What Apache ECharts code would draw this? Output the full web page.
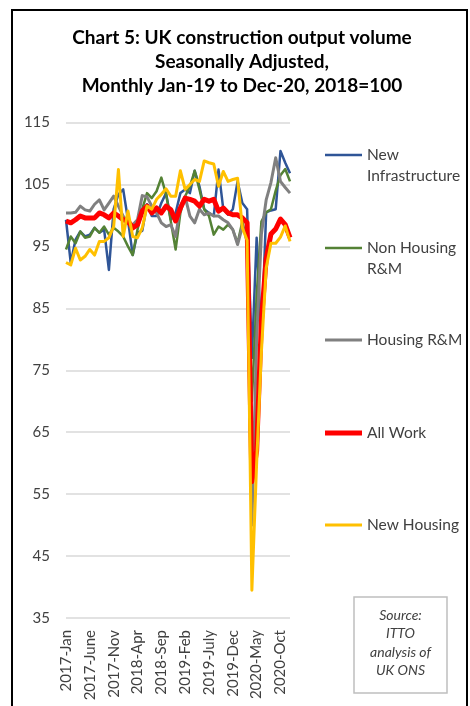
<!DOCTYPE html>
<html>
<head>
<meta charset="utf-8">
<script src="https://cdn.jsdelivr.net/npm/echarts@6/dist/echarts.min.js"></script>
<style>
    html, body { margin: 0; padding: 0; background: #fff; }
    #main { width: 470px; height: 706px; }
</style>
</head>
<body>
<div id="main"></div>
<script>
// months Jan 2017 - Dec 2020, labels shown every 5th month
let months = [
    "2017-Jan", "2017-Feb", "2017-Mar", "2017-Apr", "2017-May", "2017-June", "2017-July", "2017-Aug", "2017-Sep", "2017-Oct", "2017-Nov", "2017-Dec",
    "2018-Jan", "2018-Feb", "2018-Mar", "2018-Apr", "2018-May", "2018-June", "2018-July", "2018-Aug", "2018-Sep", "2018-Oct", "2018-Nov", "2018-Dec",
    "2019-Jan", "2019-Feb", "2019-Mar", "2019-Apr", "2019-May", "2019-June", "2019-July", "2019-Aug", "2019-Sep", "2019-Oct", "2019-Nov", "2019-Dec",
    "2020-Jan", "2020-Feb", "2020-Mar", "2020-Apr", "2020-May", "2020-June", "2020-July", "2020-Aug", "2020-Sep", "2020-Oct", "2020-Nov", "2020-Dec"
];

let seriesNames = ["New Infrastructure", "Non Housing R&M", "Housing R&M", "All Work", "New Housing"];
let legendLabels = ["New\nInfrastructure", "Non Housing\nR&M", "Housing R&M", "All Work", "New Housing"];

let newInfrastructure = [99.3, 92.3, 96.1, 97.4, 96.6, 96.9, 98, 97.2, 97.7, 91.2, 101, 103.4,
    104.2, 99.3, 93.6, 97.2, 97.5, 101.8, 99.9, 99.9, 102, 103.6, 99.3, 100.4,
    103.6, 104.2, 103.6, 107.2, 104.7, 101, 100.4, 99.9, 107.4, 101, 100.1, 101,
    105.5, 102, 101, 77, 96.4, 80, 100.5, 100.8, 101, 110.4, 108.5, 106.8];

let nonHousingRM = [94.5, 96.6, 95.5, 97.4, 96.4, 96.6, 98, 97.2, 98.2, 96.9, 98, 97.4,
    96.6, 95, 93.6, 97.7, 101, 103.6, 102.8, 103.9, 106.1, 103.4, 99, 94.5,
    100.4, 103.1, 104.7, 107.2, 104.2, 101, 99.9, 96.9, 98.2, 97.7, 98.5, 97.7,
    95.5, 99, 95.5, 70, 87, 99, 100.5, 101, 104, 106.5, 107.5, 105.5];

let housingRM = [100.4, 100.4, 100.5, 101.5, 100.9, 100.7, 101.8, 102.5, 100.9, 102, 103.1, 101.5,
    99.9, 98.8, 98.5, 99.3, 103.2, 103, 101.5, 100.4, 98.8, 98.2, 98.5, 96.6,
    101.5, 103, 99.9, 98.8, 101, 100.1, 100.4, 99.9, 99.9, 99.3, 98.8, 97.7,
    95.3, 98.2, 96.4, 50, 80, 97, 102.5, 105.3, 109.3, 105.5, 104.5, 103.6];

let allWork = [99.1, 98.8, 99.3, 99.9, 99.6, 99.6, 99.6, 100.4, 100.1, 99.6, 100.4, 99.9,
    99.3, 99.1, 98, 98.5, 100.7, 101.5, 100.4, 101.2, 100.4, 101.5, 100.9, 99.1,
    101.2, 102.8, 102.6, 102.3, 101.5, 102.6, 102.3, 102.6, 100.7, 101.2, 100.4, 100.1,
    100.1, 99.6, 98.8, 57, 62, 83, 93, 97, 97.8, 99.4, 98.5, 96.4];

let newHousing = [92.4, 92, 94.7, 92.8, 93.4, 94.5, 93.6, 95.8, 95.8, 96.4, 98.2, 107.4,
    96.6, 100.7, 96.6, 96.4, 98, 101.5, 101, 102.6, 103.4, 104.3, 103.1, 103.1,
    107.2, 104.2, 105, 105.8, 105.5, 108.8, 108.5, 108.3, 104.7, 107.1, 105.5, 105.8,
    106, 98, 96, 39.5, 60, 78, 91.5, 95.5, 95.5, 96.5, 98.3, 95.8];

let seriesData = [newInfrastructure, nonHousingRM, housingRM, allWork, newHousing];
let colours = ["#2f5597", "#548235", "#808080", "#ff0000", "#ffc000"];
let widths = [2.5, 2.5, 3, 5, 3];
let legendTops = [155, 248, 340, 433, 525];

let myChart = echarts.init(document.getElementById("main"));

let font = "Lato, 'Liberation Sans', sans-serif";
let lineH = 21;

let series = [];
let legends = [];
for (let i = 0; i < seriesNames.length; i = i+1) {
    series.push({
        name: seriesNames[i],
        type: "line",
        data: seriesData[i],
        showSymbol: false,
        symbol: "none",
        smooth: false,
        color: colours[i],
        lineStyle: { color: colours[i], width: widths[i], join: "round" }
    });
    let twoLines = legendLabels[i].indexOf("\n") >= 0;
    let h = twoLines ? 23.5 : widths[i];
    // the legend box starts at the top of the text block
    let top = twoLines ? legendTops[i] - (lineH - h / 2) - widths[i] / 2 : legendTops[i] - lineH / 2;
    legends.push({
        data: [seriesNames[i]],
        left: 325,
        top: top,
        padding: 0,
        itemWidth: 37,
        itemHeight: h,
        icon: twoLines ? "path://M0,0H37V" + widths[i] + "H0Z M0,23.49H0.01V23.5H0Z" : "rect",
        symbolKeepAspect: false,
        selectedMode: false,
        itemStyle: { borderWidth: 0 },
        formatter: function () { return legendLabels[i]; },
        textStyle: { fontFamily: font, fontSize: 15.5, color: "#404040", lineHeight: lineH }
    });
}

let option = {
    animation: false,
    grid: { left: 66, right: 180, top: 122.5, bottom: 88 },
    xAxis: {
        type: "category",
        data: months,
        boundaryGap: false,
        axisLine: { show: false },
        axisTick: { show: false },
        axisLabel: {
            interval: 4,
            rotate: 90,
            margin: 12,
            fontFamily: font,
            fontSize: 15,
            color: "#404040"
        }
    },
    yAxis: {
        type: "value",
        min: 35,
        max: 115,
        interval: 10,
        axisLine: { show: false },
        axisTick: { show: false },
        axisLabel: { margin: 16, fontFamily: font, fontSize: 15, color: "#404040" },
        splitLine: { lineStyle: { color: "#d9d9d9", width: 1.5 } }
    },
    legend: legends,
    series: series,
    graphic: [
        {
            type: "rect",
            shape: { x: 12, y: 10, width: 455, height: 720 },
            style: { fill: "none", stroke: "#000", lineWidth: 2 },
            silent: true
        },
        {
            type: "text",
            style: {
                x: 242, y: 38,
                text: "Chart 5: UK construction output volume",
                font: "bold 19px " + font,
                fill: "#000",
                textAlign: "center",
                textVerticalAlign: "middle"
            }
        },
        {
            type: "text",
            style: {
                x: 242, y: 62,
                text: "Seasonally Adjusted,",
                font: "bold 19px " + font,
                fill: "#000",
                textAlign: "center",
                textVerticalAlign: "middle"
            }
        },
        {
            type: "text",
            style: {
                x: 242, y: 86,
                text: "Monthly Jan-19 to Dec-20, 2018=100",
                font: "bold 19px " + font,
                fill: "#000",
                textAlign: "center",
                textVerticalAlign: "middle"
            }
        },
        {
            type: "rect",
            shape: { x: 354, y: 597, width: 93, height: 96 },
            style: { fill: "#fff", stroke: "#bfbfbf", lineWidth: 1.5 }
        },
        {
            type: "text",
            style: {
                x: 400.5, y: 643,
                text: "Source:\nITTO\nanalysis of\nUK ONS",
                font: "italic 14px " + font,
                lineHeight: 18.5,
                fill: "#404040",
                textAlign: "center",
                textVerticalAlign: "middle"
            }
        }
    ]
};

myChart.setOption(option);
</script>
</body>
</html>
